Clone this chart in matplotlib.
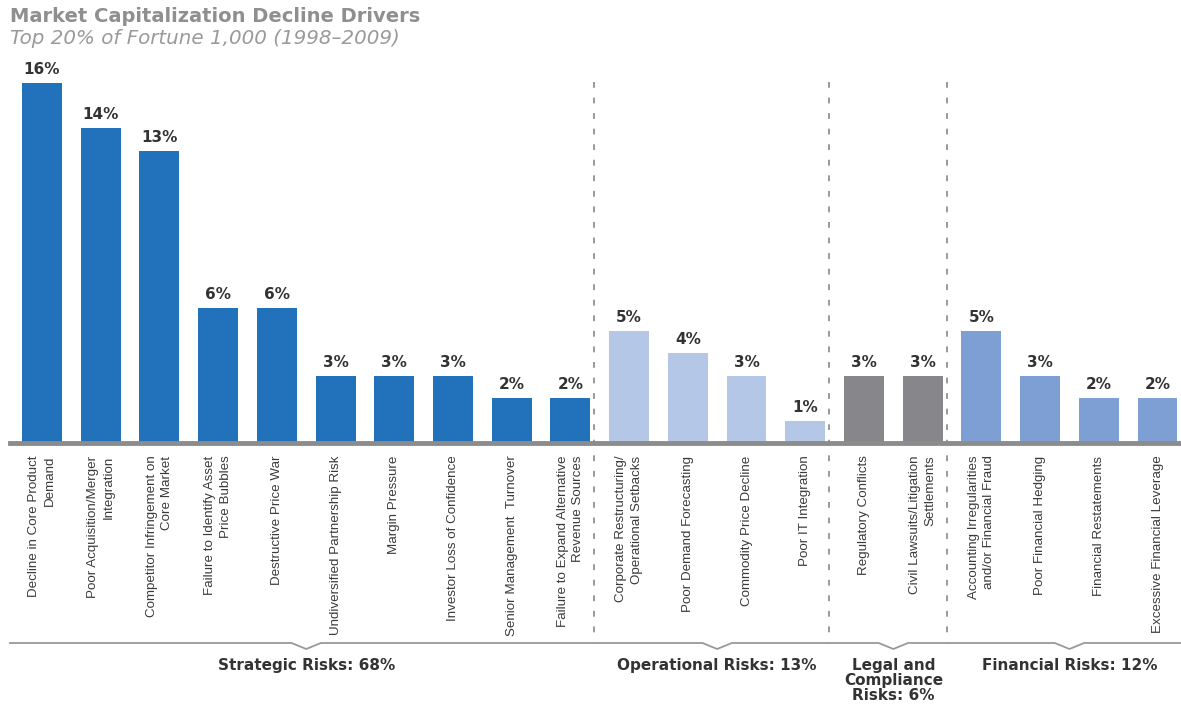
import matplotlib.pyplot as plt
import numpy as np
from matplotlib import font_manager

plt.rcParams['font.family'] = ['DejaVu Sans']

drivers = [
    'Decline in Core Product\nDemand',
    'Poor Acquisition/Merger\nIntegration',
    'Competitor Infringement on\nCore Market',
    'Failure to Identify Asset\nPrice Bubbles',
    'Destructive Price War',
    'Undiversified Partnership Risk',
    'Margin Pressure',
    'Investor Loss of Confidence',
    'Senior Management  Turnover',
    'Failure to Expand Alternative\nRevenue Sources',
    'Corporate Restructuring/\nOperational Setbacks',
    'Poor Demand Forecasting',
    'Commodity Price Decline',
    'Poor IT Integration',
    'Regulatory Conflicts',
    'Civil Lawsuits/Litigation\nSettlements',
    'Accounting Irregularities\nand/or Financial Fraud',
    'Poor Financial Hedging',
    'Financial Restatements',
    'Excessive Financial Leverage',
]
shares = [16, 14, 13, 6, 6, 3, 3, 3, 2, 2, 5, 4, 3, 1, 3, 3, 5, 3, 2, 2]

groups = ['Strategic Risks: 68%', 'Operational Risks: 13%',
          'Legal and\nCompliance\nRisks: 6%', 'Financial Risks: 12%']
group_sizes = [10, 4, 2, 4]
group_colors = ['#2172ba', '#b5c7e6', '#87878b', '#7d9fd3']

colors = []
for c, n in zip(group_colors, group_sizes):
    colors += [c] * n

# pick a narrow face for the rotated category labels
names = {f.name for f in font_manager.fontManager.ttflist}
narrow = [n for n in ['Liberation Sans Narrow', 'DejaVu Sans Condensed',
                      'Liberation Sans'] if n in names] + ['DejaVu Sans']

fig = plt.figure(figsize=(11.81, 7.06), dpi=100)
# axes: baseline at y=443px, 22.5 px per percent
px = 22.5
ax = fig.add_axes([10 / 1181, (706 - 443) / 706, 1171 / 1181, 17 * px / 706])

x = np.arange(len(shares))
ax.bar(x, shares, width=0.68, color=colors, zorder=2)
for xi, v in zip(x, shares):
    ax.annotate(f'{v}%', (xi, v), xytext=(0, 4), textcoords='offset points',
                ha='center', va='bottom', fontsize=11, fontweight='bold',
                color='#333333')

ax.set_xlim(-0.545, 19.4)
ax.set_ylim(0, 17)
ax.set_yticks([])
for s in ['top', 'left', 'right']:
    ax.spines[s].set_visible(False)
ax.spines['bottom'].set_linewidth(3.5)
ax.spines['bottom'].set_color('#8c8c8c')

ax.set_xticks(x)
ax.set_xticklabels(drivers, rotation=90, ha='center', va='top',
                   multialignment='right', fontsize=9.6, color='#3a3a3a',
                   family=narrow[0], linespacing=1.4)
ax.tick_params(axis='x', length=0, pad=9)

def ypix(p):
    return (443 - p) / px

# dashed separators between risk groups
bounds = np.cumsum(group_sizes)[:-1]
for b in bounds:
    ax.plot([b - 0.59, b - 0.59], [ypix(82), ypix(643)], color='#9a9a9a',
            lw=1.4, ls=(0, (3, 5)), clip_on=False, zorder=1)

# bracket line with a small notch under each group
starts = np.concatenate([[0], bounds])
bx = [-0.545]
by = [ypix(643)]
for s, n in zip(starts, group_sizes):
    c = s + (n - 1) / 2
    bx += [c - 0.25, c, c + 0.25]
    by += [ypix(643), ypix(649), ypix(643)]
bx.append(19.4)
by.append(ypix(643))
ax.plot(bx, by, color='#999999', lw=1.3, clip_on=False)

for s, n, g in zip(starts, group_sizes, groups):
    c = s + (n - 1) / 2
    ax.text(c, ypix(658), g, ha='center', va='top', fontsize=11,
            fontweight='bold', color='#333333', linespacing=0.98)

fig.text(10 / 1181, 1 - 17 / 706, 'Market Capitalization Decline Drivers',
         ha='left', va='center', fontsize=14, fontweight='bold', color='#8f8f8f')
fig.text(10 / 1181, 1 - 38 / 706, 'Top 20% of Fortune 1,000 (1998\u20132009)',
         ha='left', va='center', fontsize=14.3, style='italic', color='#9a9a9a')

fig.savefig('out.png', dpi=100)
